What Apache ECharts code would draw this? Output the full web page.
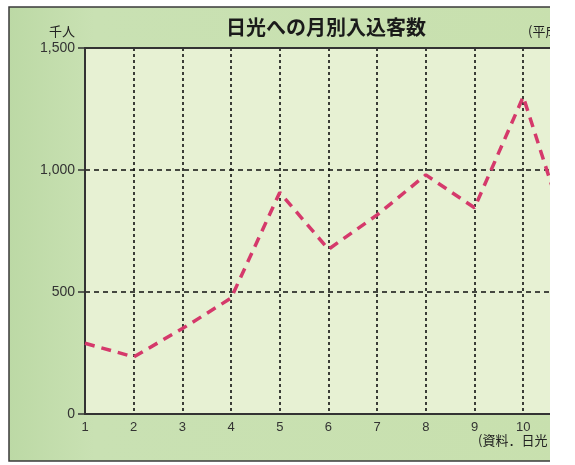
<!DOCTYPE html>
<html><head><meta charset="utf-8">
<script src="https://cdn.jsdelivr.net/npm/echarts@6/dist/echarts.min.js"></script>
<style>html,body{margin:0;padding:0;background:#fff}#c{width:575px;height:465px}</style>
</head><body><div id="c"></div>
<script>
// Data (thousand persons) per month
var months = [1, 2, 3, 4, 5, 6, 7, 8, 9, 10, 11];
var visitors = [290, 234, 350, 475, 908, 675, 816, 980, 845, 1300, 680];
var yTicks = [0, 500, 1000, 1500];
var titleText = '日光への月別入込客数';
var unitText = '千人';
var periodText = '(平成';
var sourceText = '(資料．日光';

var chart = echarts.init(document.getElementById('c'));
var numFont = 'Liberation Sans';
var jpFont = 'Noto Sans CJK JP';
chart.setOption({
  animation: false,
  backgroundColor: '#ffffff',
  title: {
    text: titleText, left: 221, top: 12,
    textStyle: {fontSize: 20, fontWeight: 'bold', color: '#1a1a1a', fontFamily: jpFont}
  },
  graphic: [
    {type: 'rect', z: -10, shape: {x: 9, y: 7, width: 570, height: 454},
     style: {fill: new echarts.graphic.LinearGradient(0, 0, 1, 0, [{offset: 0, color: '#bcd9a5'}, {offset: 0.15, color: '#c9e1b3'}, {offset: 1, color: '#c8e0ae'}]), stroke: '#3a3a3a', lineWidth: 1.5}},
    {type: 'rect', z: 100, shape: {x: 550, y: 0, width: 30, height: 465}, style: {fill: '#ffffff'}},
    {type: 'text', z: 50, left: 528, top: 25, style: {text: periodText, fontSize: 13, fontFamily: jpFont, fill: '#222'}},
    {type: 'text', z: 50, left: 478, top: 434, style: {text: sourceText, fontSize: 13, fontFamily: jpFont, fill: '#222'}}
  ],
  grid: {left: 85, right: 25, top: 48, bottom: 51, show: true, backgroundColor: '#e7f1d3', borderWidth: 0},
  xAxis: [{
    type: 'value', min: 1, max: 10.55, interval: 1,
    axisLine: {show: true, onZero: false, lineStyle: {color: '#333', width: 2}},
    axisTick: {show: false},
    axisLabel: {fontSize: 13, color: '#333', fontFamily: numFont, margin: 7, showMaxLabel: false,
      formatter: function (v) { return Number.isInteger(v) ? String(v) : ''; }},
    splitLine: {show: true, showMinLine: false, showMaxLine: false, lineStyle: {color: '#111', width: 1.6, type: [3, 3]}}
  }, {
    type: 'value', position: 'top', min: 1, max: 10.55, interval: 1,
    axisLine: {show: true, onZero: false, lineStyle: {color: '#333', width: 2}},
    axisTick: {show: false}, axisLabel: {show: false}, splitLine: {show: false}
  }],
  yAxis: {
    type: 'value', min: yTicks[0], max: yTicks[yTicks.length - 1], interval: 500,
    name: unitText, nameLocation: 'end', nameGap: 10,
    nameTextStyle: {fontSize: 13, color: '#222', fontFamily: jpFont, align: 'right', padding: [0, 10, 0, 0]},
    axisLine: {show: true, lineStyle: {color: '#333', width: 2}},
    axisTick: {show: true, length: 7, lineStyle: {color: '#333', width: 1.5}},
    axisLabel: {fontSize: 14, color: '#333', fontFamily: numFont, margin: 10,
      formatter: function (v) { return v.toLocaleString('en-US'); }},
    splitLine: {show: true, showMinLine: false, showMaxLine: false, lineStyle: {color: '#111', width: 1.6, type: [5, 4]}}
  },
  series: [{
    type: 'line', clip: true, showSymbol: false, symbol: 'none',
    data: months.map(function (m, i) { return [m, visitors[i]]; }),
    lineStyle: {color: '#d5396b', width: 3.5, type: [10, 7]}
  }]
});
</script></body></html>
